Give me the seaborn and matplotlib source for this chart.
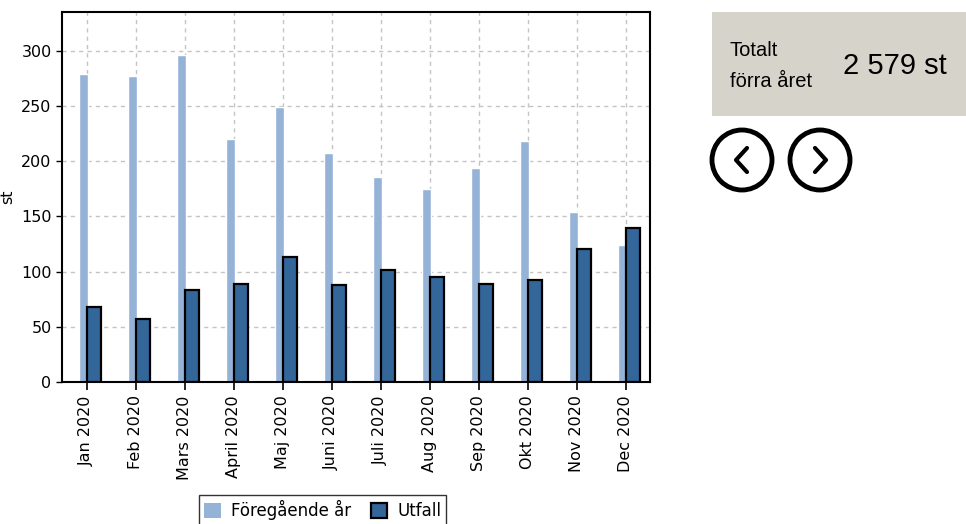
import matplotlib
matplotlib.use("Agg")
import matplotlib.pyplot as plt
from matplotlib.patches import Patch, Circle, Rectangle
import seaborn as sns
import pandas as pd

months = ["Jan 2020", "Feb 2020", "Mars 2020", "April 2020", "Maj 2020", "Juni 2020",
          "Juli 2020", "Aug 2020", "Sep 2020", "Okt 2020", "Nov 2020", "Dec 2020"]
prev_year = [279, 277, 296, 220, 249, 207, 186, 175, 194, 218, 154, 124]
outcome = [68, 57, 83, 89, 113, 88, 101, 95, 89, 92, 120, 139]
total_label = "2 579 st"

light = "#95B3D7"
dark = "#336699"

df = pd.DataFrame({"month": months, "prev": prev_year, "out": outcome})

sns.set_style("white")
plt.rcParams["font.family"] = ["DejaVu Sans"]
plt.rcParams["text.color"] = "black"
plt.rcParams["axes.labelcolor"] = "black"
plt.rcParams["xtick.color"] = "black"
plt.rcParams["ytick.color"] = "black"

fig = plt.figure(figsize=(9.66, 5.24), dpi=100)
ax = fig.add_axes([0.0642, 0.271, 0.6087, 0.706])

sns.barplot(data=df, x="month", y="prev", color=light, width=0.18,
            saturation=1, ax=ax)
n_prev = len(ax.patches)
for p in ax.patches:
    p.set_x(p.get_x() - 0.06)

sns.barplot(data=df, x="month", y="out", color=dark, width=0.29,
            saturation=1, edgecolor="black", linewidth=1.6, ax=ax)
for p in ax.patches[n_prev:]:
    p.set_x(p.get_x() + 0.145)

ax.set_xlim(-0.5, 11.5)
ax.set_ylim(0, 335)
ax.set_yticks(range(0, 301, 50))
ax.grid(True, color="#C4C4C4", linestyle=(0, (3, 3)), linewidth=1)
ax.set_axisbelow(True)
ax.set_xlabel("")
ax.set_ylabel("st", fontsize=11.5)
ax.tick_params(axis="x", rotation=90, labelsize=11.5, length=6, width=1.2,
               direction="out", bottom=True)
ax.tick_params(axis="y", labelsize=11.5, length=4, width=1, left=True)
for s in ax.spines.values():
    s.set_color("black")
    s.set_linewidth(1.5)

handles = [Patch(facecolor=light, edgecolor="none", label="Föregående år"),
           Patch(facecolor=dark, edgecolor="black", linewidth=1.6, label="Utfall")]
leg = fig.legend(handles=handles, loc="center", bbox_to_anchor=(0.334, 0.027),
                 ncol=2, frameon=True, fancybox=False, fontsize=12,
                 handlelength=1.0, handleheight=1.0, columnspacing=1.2,
                 handletextpad=0.6, borderpad=0.3)
leg.get_frame().set_edgecolor("black")
leg.get_frame().set_linewidth(1)

# info box on the right
fig.patches.append(Rectangle((712 / 966, 1 - 116 / 524), 254 / 966, 104 / 524,
                             transform=fig.transFigure, facecolor="#D6D3CB",
                             edgecolor="none"))
fig.text(730 / 966, 1 - 66 / 524, "Totalt\nförra året", fontsize=14.5,
         family="Liberation Sans", va="center", ha="left", linespacing=1.75)
fig.text(843 / 966, 1 - 66 / 524, total_label, fontsize=21,
         family="Liberation Sans", va="center", ha="left")

# navigation buttons
bax = fig.add_axes([0, 0, 1, 1], facecolor="none")
bax.set_xlim(0, 966)
bax.set_ylim(524, 0)
bax.axis("off")
for cx, d in [(742, -1), (820, 1)]:
    bax.add_patch(Circle((cx, 160), 30, fill=False, edgecolor="black", linewidth=3.5))
    bax.plot([cx - 5 * d, cx + 6 * d, cx - 5 * d], [148, 160, 172],
             color="black", linewidth=3, solid_capstyle="round")

fig.savefig("out.png", dpi=100)
